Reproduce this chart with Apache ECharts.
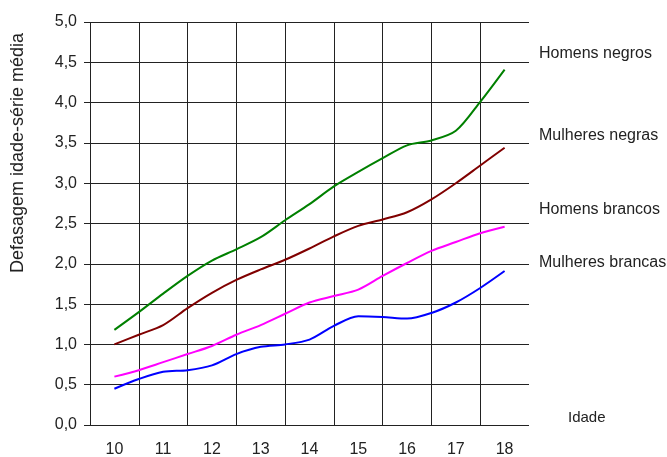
<!DOCTYPE html>
<html><head><meta charset="utf-8">
<script src="https://cdn.jsdelivr.net/npm/echarts@6/dist/echarts.min.js"></script>
<style>html,body{margin:0;padding:0;background:#fff}#c{width:667px;height:457px}</style>
</head><body><div id="c"></div>
<script>
var ageLabels = ['10','11','12','13','14','15','16','17','18'];
var ages = [10,10.5,11,11.5,12,12.5,13,13.5,14,14.5,15,15.5,16,16.5,17,17.5,18];
var homensNegros = [1.18,1.40,1.63,1.85,2.04,2.18,2.33,2.54,2.74,2.96,3.14,3.31,3.47,3.53,3.65,4.01,4.41];
var mulheresNegras = [1.00,1.12,1.24,1.45,1.64,1.80,1.93,2.05,2.19,2.34,2.47,2.55,2.64,2.80,3.00,3.22,3.44];
var homensBrancos = [0.60,0.68,0.78,0.88,0.98,1.12,1.24,1.38,1.52,1.60,1.68,1.85,2.01,2.16,2.27,2.38,2.46];
var mulheresBrancas = [0.45,0.57,0.66,0.68,0.74,0.88,0.97,1.00,1.06,1.23,1.35,1.34,1.32,1.39,1.52,1.70,1.91];
var seriesNames = ['Homens negros','Mulheres negras','Homens brancos','Mulheres brancas'];
var yAxisName = 'Defasagem idade-série média';
var xAxisName = 'Idade';

function pairs(v){ return ages.map(function(a,i){ return [a, v[i]]; }); }
var FONT = '"Liberation Sans", Arial, sans-serif';
var chart = echarts.init(document.getElementById('c'), null, {renderer:'canvas'});
var colors = ['#008000','#800000','#ff00ff','#0000ff'];
var vals = [homensNegros, mulheresNegras, homensBrancos, mulheresBrancas];
var labelY = [54, 136, 210, 263];
chart.setOption({
  animation:false,
  backgroundColor:'#fff',
  grid:{left:90, right:138, top:22, bottom:32, containLabel:false, outerBoundsMode:'none'},
  xAxis:[{
    type:'value', min:9.5, max:18.5, interval:1,
    axisLine:{show:false}, axisTick:{show:false}, axisLabel:{show:false},
    splitLine:{show:true, showMaxLine:false, lineStyle:{color:'#222', width:1}}
  },{
    type:'category', data:ageLabels, boundaryGap:true, position:'bottom',
    axisLine:{show:false}, axisTick:{show:false}, splitLine:{show:false},
    axisLabel:{color:'#222', fontSize:16, fontFamily:FONT, margin:17}
  }],
  yAxis:{
    type:'value', min:0, max:5, interval:0.5,
    axisLine:{show:false},
    axisTick:{show:true, length:6, lineStyle:{color:'#222'}},
    axisLabel:{color:'#222', fontSize:16, fontFamily:FONT, margin:13,
      formatter:function(v){ return v.toFixed(1).replace('.', ','); }},
    splitLine:{show:true, lineStyle:{color:'#222', width:1}}
  },
  series: vals.map(function(v,i){
    return {name:seriesNames[i], type:'line', xAxisIndex:0, data:pairs(v), smooth:0.3,
      showSymbol:false, lineStyle:{color:colors[i], width:2}, itemStyle:{color:colors[i]}};
  }),
  graphic: seriesNames.map(function(n,i){
    return {type:'text', x:539, y:labelY[i], style:{text:n, fill:'#222', font:'16px '+FONT, verticalAlign:'middle'}};
  }).concat([
    {type:'text', x:568, y:418, style:{text:xAxisName, fill:'#222', font:'15px '+FONT, verticalAlign:'middle'}},
    {type:'text', x:18, y:153, rotation:Math.PI/2, style:{text:yAxisName, fill:'#222', font:'18px '+FONT, align:'center', verticalAlign:'middle'}}
  ])
});
</script></body></html>
